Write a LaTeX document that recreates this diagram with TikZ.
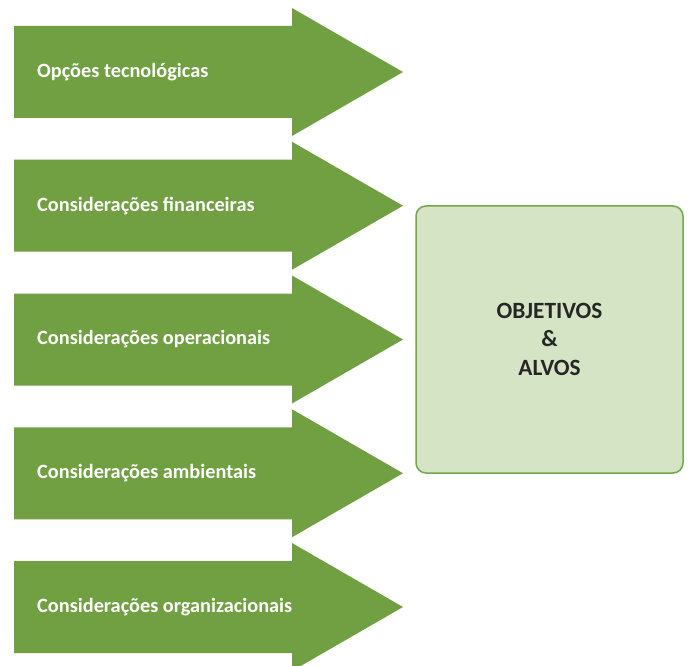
\documentclass[tikz,border=0pt]{standalone}
\usepackage{fontspec}
\setmainfont{Carlito}
\definecolor{arrowgreen}{HTML}{70A042}
\definecolor{boxfill}{HTML}{D5E4C5}
\definecolor{boxline}{HTML}{75A64A}
\definecolor{boxtext}{HTML}{262626}
\begin{document}
\begin{tikzpicture}[x=1pt,y=-1pt,
  arrowshape/.style={fill=arrowgreen,draw=none},
  arrowlabel/.style={anchor=west,text=white,font=\fontsize{20.3}{24}\selectfont\bfseries,inner sep=0pt},
  goalbox/.style={fill=boxfill,draw=boxline,line width=1.5pt,rounded corners=10pt},
  goaltext/.style={align=center,text=boxtext,font=\fontsize{23.3}{28.5}\selectfont\bfseries}]
\useasboundingbox (0,0) rectangle (689,666);
\foreach \i/\txt in {0/Opções tecnológicas,1/Considerações financeiras,2/Considerações operacionais,3/Considerações ambientais,4/Considerações organizacionais}{
  \pgfmathsetmacro{\c}{72+133.75*\i}
  \path[arrowshape] (14,\c-46) -- (292,\c-46) -- (292,\c-64) -- (403,\c) -- (292,\c+64) -- (292,\c+46) -- (14,\c+46) -- cycle;
  \node[arrowlabel] (lab\i) at (37,\c) {\txt};
}
\draw[goalbox] (416,206) rectangle (683,473);
\node[goaltext] (goal) at (549.5,339) {OBJETIVOS\\\&\\ALVOS};
\end{tikzpicture}
\end{document}
